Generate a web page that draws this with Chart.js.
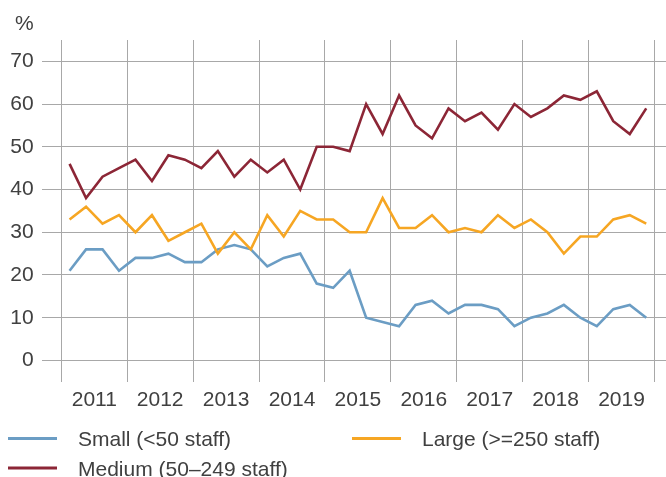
<!DOCTYPE html>
<html>
<head>
<meta charset="utf-8">
<script src="https://cdn.jsdelivr.net/npm/chart.js@4.4.0/dist/chart.umd.min.js"></script>
<style>
  html, body { margin: 0; padding: 0; background: #fff; }
  #wrap { width: 666px; height: 477px; }
</style>
</head>
<body>
<div id="wrap"><canvas id="chart"></canvas></div>
<script>
// quarterly shares, 2011 Q1 .. 2019 Q4
const years = ['2011', '2012', '2013', '2014', '2015', '2016', '2017', '2018', '2019'];
const small = [21, 26, 26, 21, 24, 24, 25, 23, 23, 26, 27, 26,
               22, 24, 25, 18, 17, 21, 10, 9, 8, 13, 14,
               11, 13, 13, 12, 8, 10, 11, 13, 10, 8, 12, 13, 10];
const medium = [46, 38, 43, 45, 47, 42, 48, 47, 45, 49, 43, 47,
                44, 47, 40, 50, 50, 49, 60, 53, 62, 55, 52,
                59, 56, 58, 54, 60, 57, 59, 62, 61, 63, 56, 53, 59];
const large = [33, 36, 32, 34, 30, 34, 28, 30, 32, 25, 30, 26,
               34, 29, 35, 33, 33, 30, 30, 38, 31, 31, 34,
               30, 31, 30, 34, 31, 33, 30, 25, 29, 29, 33, 34, 32];
const yTicks = [0, 10, 20, 30, 40, 50, 60, 70];
const unit = '%';

const textColor = '#404040';
const gridColor = '#a8a8a8';
const font = { family: "'Liberation Sans', Arial, sans-serif", size: 21 };

const toPoints = arr => arr.map((v, i) => ({ x: i + 0.5, y: v }));

// legend in two columns, drawn under the axis
const sideLegend = {
  id: 'sideLegend',
  afterDraw(chart, args, opts) {
    const ctx = chart.ctx;
    ctx.save();
    ctx.font = font.size + 'px ' + font.family;
    ctx.textBaseline = 'middle';
    // unit label above the y axis
    ctx.fillStyle = textColor;
    ctx.textAlign = 'right';
    ctx.fillText(unit, chart.chartArea.left - 8, 24);
    ctx.textAlign = 'left';
    chart.data.datasets.forEach(ds => {
      const slot = opts.slots[ds.label];
      const x = opts.x0 + slot[0] * opts.colGap;
      const y = opts.rows[slot[1]];
      ctx.strokeStyle = ds.borderColor;
      ctx.lineWidth = 3;
      ctx.beginPath();
      ctx.moveTo(x, y);
      ctx.lineTo(x + opts.lineLen, y);
      ctx.stroke();
      ctx.fillStyle = textColor;
      ctx.fillText(ds.label, x + opts.textGap, y + 2);
    });
    ctx.restore();
  }
};

new Chart(document.getElementById('chart'), {
  type: 'line',
  data: {
    datasets: [
      { label: 'Small (<50 staff)', data: toPoints(small), borderColor: '#6b9dc4', order: 3 },
      { label: 'Medium (50\u2013249 staff)', data: toPoints(medium), borderColor: '#8c2636', order: 2 },
      { label: 'Large (>=250 staff)', data: toPoints(large), borderColor: '#f6a623', order: 1 }
    ]
  },
  options: {
    responsive: true,
    maintainAspectRatio: false,
    animation: false,
    elements: {
      line: { borderWidth: 2.6, tension: 0, fill: false },
      point: { radius: 0, hoverRadius: 0 }
    },
    layout: { padding: { left: 2.2, right: 0, top: 40, bottom: 58 } },
    scales: {
      x: {
        type: 'linear',
        min: -1.2,
        max: 36.7,
        afterBuildTicks: axis => {
          axis.ticks = [];
          for (let v = 0; v <= 36; v += 2) axis.ticks.push({ value: v });
        },
        grid: {
          color: c => (c.tick && c.tick.value % 4 === 0) ? gridColor : 'rgba(0,0,0,0)',
          lineWidth: 1,
          drawTicks: false
        },
        border: { display: false },
        ticks: {
          autoSkip: false,
          maxRotation: 0,
          padding: 6,
          color: textColor,
          font: font,
          callback: v => (v % 4 === 2) ? years[(v - 2) / 4] : ''
        }
      },
      y: {
        min: -5,
        max: 75,
        afterBuildTicks: axis => {
          axis.ticks = yTicks.map(v => ({ value: v }));
        },
        grid: { color: gridColor, lineWidth: 1, drawTicks: false },
        border: { display: false },
        ticks: { padding: 8, color: textColor, font: font }
      }
    },
    plugins: {
      legend: { display: false },
      tooltip: { enabled: false },
      sideLegend: {
        x0: 8,
        colGap: 344,
        rows: [438.5, 468],
        lineLen: 49,
        textGap: 70,
        slots: {
          'Small (<50 staff)': [0, 0],
          'Large (>=250 staff)': [1, 0],
          'Medium (50\u2013249 staff)': [0, 1]
        }
      }
    }
  },
  plugins: [sideLegend]
});
</script>
</body>
</html>
